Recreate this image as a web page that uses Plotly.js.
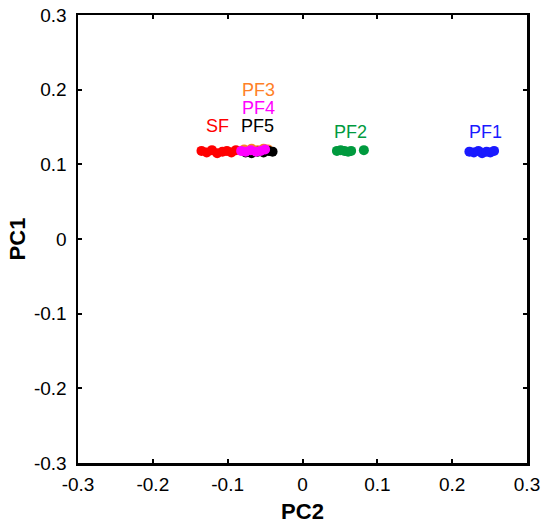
<!DOCTYPE html>
<html>
<head>
<meta charset="utf-8">
<script src="https://cdn.plot.ly/plotly-3.0.1.min.js"></script>
<style>html,body{margin:0;padding:0;background:#fff;}#chart{width:550px;height:531px;}</style>
</head>
<body>
<div id="chart"></div>
<script>
// Data
const sfX  = [-0.135,-0.128,-0.121,-0.114,-0.107,-0.101,-0.095,-0.089];
const sfY  = [0.118,0.116,0.119,0.115,0.117,0.118,0.116,0.119];
const pf3X = [-0.078,-0.068,-0.060,-0.052,-0.046];
const pf3Y = [0.120,0.121,0.119,0.121,0.120];
const pf5X = [-0.076,-0.068,-0.060,-0.052,-0.045,-0.040];
const pf5Y = [0.116,0.115,0.117,0.116,0.118,0.117];
const pf4X = [-0.082,-0.076,-0.069,-0.062,-0.056,-0.050];
const pf4Y = [0.118,0.117,0.119,0.117,0.118,0.120];
const pf2X = [0.046,0.051,0.056,0.061,0.065,0.082];
const pf2Y = [0.118,0.119,0.118,0.117,0.118,0.119];
const pf1X = [0.223,0.229,0.235,0.240,0.246,0.251,0.256];
const pf1Y = [0.117,0.116,0.118,0.115,0.117,0.116,0.118];

const labelNames = ["SF","PF5","PF4","PF3","PF2","PF1"];
const labelX = [-0.113,-0.060,-0.059,-0.059,0.0635,0.244];
const labelY = [0.152,0.152,0.176,0.200,0.143,0.143];
const labelColors = ["#ff0000","#000000","#ff00ff","#ff8026","#009a3e","#1a1aff"];

const tickVals = [-0.3,-0.2,-0.1,0,0.1,0.2,0.3];
const tickText = ["-0.3","-0.2","-0.1","0","0.1","0.2","0.3"];

const FONT = 'Liberation Sans, Arial, sans-serif';

function pts(x, y, color, name) {
  return {x: x, y: y, type: 'scatter', mode: 'markers', name: name,
    marker: {color: color, size: 10, line: {width: 0}}, hoverinfo: 'x+y'};
}

const traces = [
  pts(sfX, sfY, "#ff0000", "SF"),
  pts(pf3X, pf3Y, "#ff8026", "PF3"),
  pts(pf5X, pf5Y, "#000000", "PF5"),
  pts(pf4X, pf4Y, "#ff00ff", "PF4"),
  pts(pf2X, pf2Y, "#009a3e", "PF2"),
  pts(pf1X, pf1Y, "#1a1aff", "PF1")
];

const annotations = labelNames.map((t, i) => ({
  x: labelX[i], y: labelY[i], xref: 'x', yref: 'y', text: t, showarrow: false,
  font: {family: FONT, size: 18, color: labelColors[i]},
  xanchor: 'center', yanchor: 'middle', borderpad: 0
}));

const axisCommon = {
  range: [-0.3, 0.3], tickmode: 'array', tickvals: tickVals, ticktext: tickText,
  ticks: 'inside', ticklen: 4, tickwidth: 2, tickcolor: '#000',
  showline: true, linecolor: '#000', linewidth: 2.5, mirror: 'ticks',
  showgrid: false, zeroline: false,
  tickfont: {family: FONT, size: 19, color: '#000'}
};

const layout = {
  width: 550, height: 531,
  margin: {l: 78, r: 23, t: 15, b: 68},
  paper_bgcolor: '#fff', plot_bgcolor: '#fff',
  showlegend: false,
  xaxis: Object.assign({}, axisCommon, {
    ticklabelstandoff: 3,
    title: {text: 'PC2', font: {family: FONT, size: 22, color: '#000', weight: 'bold'}, standoff: 10}
  }),
  yaxis: Object.assign({}, axisCommon, {
    ticklabelstandoff: 5,
    title: {text: 'PC1', font: {family: FONT, size: 22, color: '#000', weight: 'bold'}, standoff: 3}
  }),
  annotations: annotations
};

Plotly.newPlot('chart', traces, layout, {displayModeBar: false, staticPlot: true});
</script>
</body>
</html>
